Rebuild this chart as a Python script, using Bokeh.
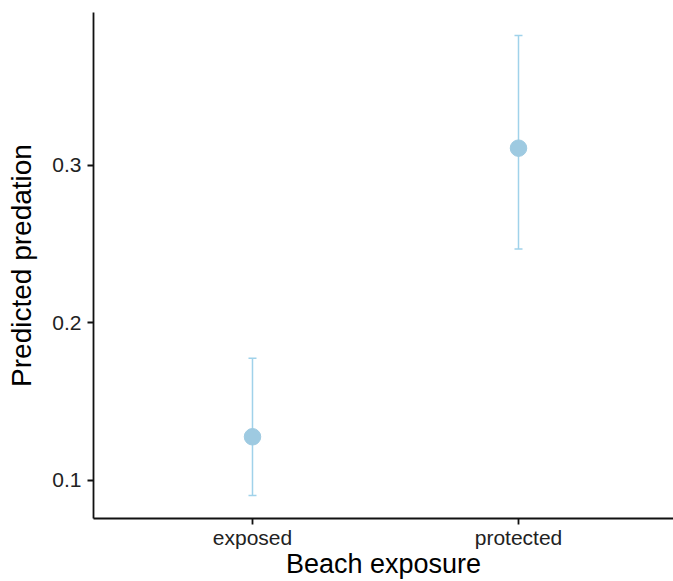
from bokeh.plotting import figure
from bokeh.models import (ColumnDataSource, Whisker, TeeHead, Range1d,
                          FixedTicker)
from bokeh.embed import file_html
from bokeh.resources import INLINE

# ---- data ----
categories = ["exposed", "protected"]
predicted = [0.1277, 0.3107]
lower_ci = [0.0905, 0.2467]
upper_ci = [0.1775, 0.3821]
y_ticks = [0.1, 0.2, 0.3]

xpos = [i + 1 for i in range(len(categories))]

src = ColumnDataSource(dict(x=xpos, y=predicted, lower=lower_ci,
                            upper=upper_ci, cat=categories))

FONT = "Liberation Sans"
PT_COLOR = "#9ECAE1"
ERR_COLOR = "#A0D2EA"

p = figure(width=673, height=581, output_backend="svg",
           toolbar_location=None, min_border=0,
           x_range=Range1d(0.4023, 2.5827),
           y_range=Range1d(0.0759, 0.3967))
p.min_border_top = 12
p.min_border_left = 93
p.min_border_right = 0
p.min_border_bottom = 0
p.outline_line_color = None
p.background_fill_color = "white"
p.border_fill_color = "white"
p.xgrid.visible = False
p.ygrid.visible = False

wh = Whisker(source=src, base="x", upper="upper", lower="lower",
             dimension="height", line_color=ERR_COLOR, line_width=1.5,
             upper_head=TeeHead(size=8, line_color=ERR_COLOR, line_width=1.5),
             lower_head=TeeHead(size=8, line_color=ERR_COLOR, line_width=1.5))
p.add_layout(wh)

p.scatter("x", "y", source=src, size=16.5, fill_color=PT_COLOR,
          line_color=PT_COLOR)

# x axis
xa = p.xaxis[0]
xa.ticker = FixedTicker(ticks=xpos)
xa.major_label_overrides = {x: c for x, c in zip(xpos, categories)}
xa.minor_tick_line_color = None
xa.major_tick_in = 0
xa.major_tick_out = 6
xa.major_label_standoff = 1
xa.axis_label = "Beach exposure"
xa.axis_label_standoff = -3
xa.axis_label_text_font = FONT
xa.axis_label_text_font_size = "27px"
xa.axis_label_text_font_style = "normal"
xa.axis_label_text_color = "#000000"
xa.major_label_text_font = FONT
xa.major_label_text_font_size = "21px"
xa.major_label_text_color = "#222222"
xa.axis_line_width = 1.8
xa.axis_line_color = "#111111"
xa.major_tick_line_width = 1.8
xa.major_tick_line_color = "#111111"

# y axis
ya = p.yaxis[0]
ya.ticker = FixedTicker(ticks=y_ticks)
ya.minor_tick_line_color = None
ya.major_tick_in = 0
ya.major_tick_out = 6
ya.major_label_standoff = 6
ya.axis_label = "Predicted predation"
ya.axis_label_standoff = 12
ya.axis_label_text_font = FONT
ya.axis_label_text_font_size = "28px"
ya.axis_label_text_font_style = "normal"
ya.axis_label_text_color = "#000000"
ya.major_label_text_font = FONT
ya.major_label_text_font_size = "21px"
ya.major_label_text_color = "#222222"
ya.axis_line_width = 1.8
ya.axis_line_color = "#111111"
ya.major_tick_line_width = 1.8
ya.major_tick_line_color = "#111111"

open("out.html", "w").write(file_html(p, INLINE))
